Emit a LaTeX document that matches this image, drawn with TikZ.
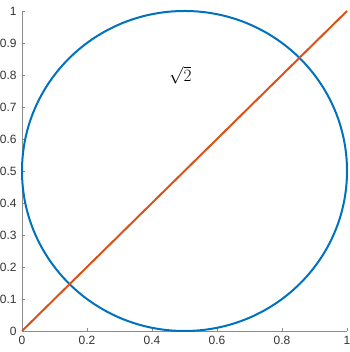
\documentclass[tikz,border=0pt]{standalone}
\usepackage{amsmath}
\usepackage{fontspec}
\setmainfont{Liberation Sans}
\usepackage{tikz}
\definecolor{mblue}{rgb}{0,0.447,0.741}
\definecolor{morange}{rgb}{0.85,0.325,0.098}
\tikzset{axis/.style={draw=black!45,line width=0.9pt},
	ticklab/.style={text=black!80,font=\fontsize{12}{14}\selectfont,inner sep=1pt}}
\begin{document}
\begin{tikzpicture}[x=325pt,y=320pt]
			\useasboundingbox (-22pt,-21pt) rectangle (327pt,331pt);
			% axes
			\draw[axis] (0,1) -- (0,0) -- (1,0);
			\foreach \x in {0,0.2,0.4,0.6,0.8,1}
			\draw[axis] (\x,3pt) -- (\x,0) node[ticklab,below=4pt] {\x};
			\foreach \y in {0,0.1,0.2,0.3,0.4,0.5,0.6,0.7,0.8,0.9,1}
			\draw[axis] (3pt,\y) -- (0,\y) node[ticklab,left=4pt] {\y};
			% curves
			\draw[mblue,line width=2pt] (0.5,0.5) ellipse [x radius=0.5,y radius=0.5];
			\draw[morange,line width=2pt] (0,0) -- (1,1);
			\node[font=\fontsize{18}{20}\selectfont] (root) at (0.487,0.8) {$\sqrt{2}$};
\end{tikzpicture}
\end{document}
